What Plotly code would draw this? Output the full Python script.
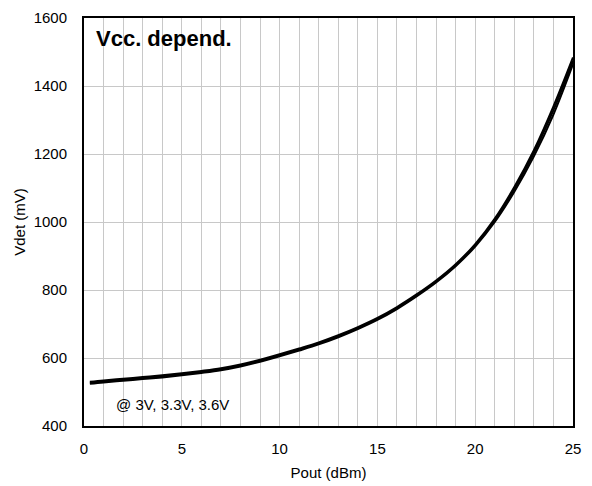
import plotly.graph_objects as go

pout = [0.3, 1, 2, 3, 4, 5, 6, 7, 8, 9, 10, 11, 12, 13, 14, 15, 16, 17, 18, 19, 20, 21, 22, 23, 24, 25]
v_3v0 = [524, 528, 533, 538, 543, 549, 556, 564, 575, 589, 605, 622, 640, 661, 685, 712, 744, 781, 822, 870, 928, 1000, 1089, 1193, 1316, 1464]
v_3v3 = [527, 531, 536, 541, 546, 552, 559, 567, 578, 592, 608, 625, 643, 664, 688, 715, 747, 784, 825, 873, 932, 1006, 1097, 1203, 1329, 1474]
v_3v6 = [530, 534, 539, 544, 549, 555, 562, 570, 581, 595, 611, 628, 646, 667, 691, 718, 750, 787, 828, 876, 935, 1010, 1103, 1211, 1340, 1484]

series = [("3V", v_3v0), ("3.3V", v_3v3), ("3.6V", v_3v6)]

fig = go.Figure()
for name, ys in series:
    fig.add_trace(go.Scatter(x=pout, y=ys, mode="lines", name=name,
                             line=dict(color="black", width=2, shape="spline", smoothing=1.0),
                             showlegend=False))

font_family = "Liberation Sans, Arial, sans-serif"
fig.update_layout(
    width=592, height=486,
    margin=dict(l=84, r=19, t=18, b=60),
    paper_bgcolor="white", plot_bgcolor="white",
    font=dict(family=font_family, size=15, color="black"),
    xaxis=dict(range=[0, 25], dtick=5, tick0=0, showgrid=True, gridcolor="#c8c8c8", gridwidth=1,
               minor=dict(dtick=1, showgrid=True, gridcolor="#c8c8c8", gridwidth=1),
               showline=True, linecolor="black", linewidth=2, mirror=True,
               ticks="", ticklabelstandoff=8, zeroline=False, automargin=False,
               title=dict(text="Pout (dBm)", font=dict(size=15), standoff=11)),
    yaxis=dict(range=[400, 1600], dtick=200, showgrid=True, gridcolor="#c8c8c8", gridwidth=1,
               showline=True, linecolor="black", linewidth=2, mirror=True,
               ticks="", ticklabelstandoff=12, zeroline=False, automargin=False,
               title=dict(text="Vdet (mV)", font=dict(size=15), standoff=4)),
    annotations=[
        dict(text="<b>Vcc. depend.</b>", x=0.021, y=0.95, xref="paper", yref="paper",
             xanchor="left", yanchor="middle", showarrow=False, font=dict(size=22)),
        dict(text="@ 3V, 3.3V, 3.6V", x=1.55, y=462, xref="x", yref="y",
             xanchor="left", yanchor="middle", showarrow=False, font=dict(size=15)),
    ],
)

fig.write_html("out.html")
